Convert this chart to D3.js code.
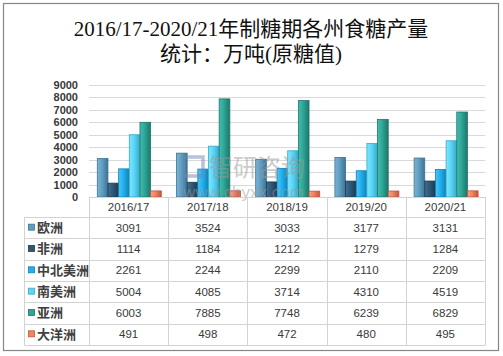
<!DOCTYPE html>
<html><head><meta charset="utf-8">
<script src="https://cdn.jsdelivr.net/npm/d3@7"></script>
<style>
html,body{margin:0;padding:0;background:#fff;}
svg{display:block;}
</style></head>
<body>
<svg id="c" width="503" height="356"></svg>
<script>
const titleLines = ["2016/17-2020/21年制糖期各州食糖产量", "统计：万吨(原糖值)"];
const categories = ["2016/17", "2017/18", "2018/19", "2019/20", "2020/21"];
const seriesNames = ["欧洲", "非洲", "中北美洲", "南美洲", "亚洲", "大洋洲"];
const europe   = [3091, 3524, 3033, 3177, 3131];
const africa   = [1114, 1184, 1212, 1279, 1284];
const nCentAm  = [2261, 2244, 2299, 2110, 2209];
const southAm  = [5004, 4085, 3714, 4310, 4519];
const asia     = [6003, 7885, 7748, 6239, 6829];
const oceania  = [491, 498, 472, 480, 495];
const yTicks   = [0, 1000, 2000, 3000, 4000, 5000, 6000, 7000, 8000, 9000];
const seriesValues = [europe, africa, nCentAm, southAm, asia, oceania];
const colors = [
  {base:"#5f9ec2", light:"#7bb4d3", dark:"#3f7393"},
  {base:"#2f5877", light:"#426e8f", dark:"#1d3b52"},
  {base:"#20b0ee", light:"#4cc4f5", dark:"#1380b4"},
  {base:"#5ad6f6", light:"#7fe6fc", dark:"#38a9c9"},
  {base:"#2ea595", light:"#45bcae", dark:"#1c776b"},
  {base:"#ee8466", light:"#f7a288", dark:"#c0563b"}
];

const svg = d3.select("#c");
const defs = svg.append("defs");
colors.forEach((c, i) => {
  const g = defs.append("linearGradient").attr("id", "g" + i)
    .attr("x1", "0").attr("x2", "1").attr("y1", "0").attr("y2", "0");
  g.append("stop").attr("offset", "0%").attr("stop-color", c.light);
  g.append("stop").attr("offset", "45%").attr("stop-color", c.base);
  g.append("stop").attr("offset", "100%").attr("stop-color", c.dark);
});

// outer border
svg.append("rect").attr("x", 3.5).attr("y", 3.5).attr("width", 495).attr("height", 347)
  .attr("fill", "#fff").attr("stroke", "#878787").attr("stroke-width", 1.2);

// title
const tfont = "'Liberation Serif','Noto Sans CJK SC',serif";
svg.append("text").attr("x", 251).attr("y", 36).attr("text-anchor", "middle")
  .attr("font-family", tfont).attr("font-size", 21).attr("fill", "#111")
  .text(titleLines[0]);
svg.append("text").attr("x", 251).attr("y", 61).attr("text-anchor", "middle")
  .attr("font-family", tfont).attr("font-size", 21).attr("fill", "#111")
  .text(titleLines[1]);

const left = 89, right = 485, yTop = 85, yBase = 197;
const x0 = d3.scaleBand().domain(categories).range([left, right]).padding(0);
const x1 = d3.scaleBand().domain(seriesNames).range([8.3, 72.3]).padding(0);
const y = d3.scaleLinear().domain([0, 9000]).range([yBase, yTop]);

// gridlines
svg.append("g").selectAll("line").data(yTicks.filter(d => d > 0)).join("line")
  .attr("x1", left).attr("x2", right)
  .attr("y1", d => Math.round(y(d)) + 0.5).attr("y2", d => Math.round(y(d)) + 0.5)
  .attr("stroke", "#d9d9d9").attr("stroke-width", 1);

// y axis
const yAxis = d3.axisLeft(y).tickValues(yTicks).tickFormat(d3.format("d")).tickSize(0).tickPadding(0);
const ga = svg.append("g").attr("transform", `translate(${78},0)`).call(yAxis);
ga.select(".domain").remove();
ga.selectAll("text").attr("font-family", "'Liberation Sans',Arial,sans-serif")
  .attr("font-size", 11).attr("font-weight", "bold").attr("fill", "#383838");

// bars
const groups = svg.append("g").selectAll("g").data(categories).join("g")
  .attr("transform", d => `translate(${x0(d)},0)`);
groups.selectAll("rect").data((c, ci) => seriesNames.map((s, si) => ({s, si, v: seriesValues[si][ci]})))
  .join("rect")
  .attr("x", d => x1(d.s)).attr("width", x1.bandwidth())
  .attr("y", d => y(d.v)).attr("height", d => yBase - y(d.v))
  .attr("fill", d => `url(#g${d.si})`)
  .attr("stroke", d => colors[d.si].dark).attr("stroke-width", 0.8);

// watermark (drawn over bars, semi-transparent)
const wm = svg.append("g").attr("opacity", 0.5);
wm.append("rect").attr("x", 184).attr("y", 157).attr("width", 19).attr("height", 19)
  .attr("fill", "none").attr("stroke", "#6f88b3").attr("stroke-width", 3.5);
wm.append("text").attr("x", 209).attr("y", 176).attr("font-family", "'Noto Sans CJK SC'")
  .attr("font-size", 24).attr("fill", "#9a9a9a").text("智研咨询");
wm.append("text").attr("x", 183).attr("y", 198).attr("font-family", "'Liberation Sans',Arial,sans-serif")
  .attr("font-size", 17).attr("fill", "#9a9a9a").text("www.chyxx.com");

// table
const rowTop = 217, rowH = 21.33, tableLeft = 24.5;
const gridColor = "#d3d3d3";
const tbl = svg.append("g");
const hLines = d3.range(seriesNames.length + 1).map(i => rowTop + i * rowH);
tbl.selectAll(".h").data(hLines).join("line")
  .attr("x1", tableLeft).attr("x2", right)
  .attr("y1", d => Math.round(d) + 0.5).attr("y2", d => Math.round(d) + 0.5)
  .attr("stroke", gridColor);
tbl.append("line").attr("x1", left).attr("x2", right).attr("y1", yBase + 0.5).attr("y2", yBase + 0.5)
  .attr("stroke", gridColor);
const vx = categories.map(c => x0(c)).concat([right]);
tbl.selectAll(".v").data(vx).join("line")
  .attr("x1", d => Math.round(d) + 0.5).attr("x2", d => Math.round(d) + 0.5)
  .attr("y1", yBase).attr("y2", Math.round(rowTop + seriesNames.length * rowH) + 0.5)
  .attr("stroke", gridColor);
tbl.append("line").attr("x1", tableLeft).attr("x2", tableLeft)
  .attr("y1", rowTop).attr("y2", Math.round(rowTop + seriesNames.length * rowH) + 0.5)
  .attr("stroke", gridColor);

const numFont = "'Liberation Sans',Arial,sans-serif";
tbl.selectAll(".hd").data(categories).join("text")
  .attr("x", d => x0(d) + x0.bandwidth() / 2).attr("y", 211)
  .attr("text-anchor", "middle").attr("font-family", numFont).attr("font-size", 11.5)
  .attr("fill", "#3a3a3a").text(d => d);

seriesNames.forEach((s, si) => {
  const cy = rowTop + si * rowH + rowH / 2;
  tbl.append("rect").attr("x", 28.5).attr("y", cy - 3.5).attr("width", 6).attr("height", 6)
    .attr("fill", colors[si].base).attr("stroke", colors[si].dark).attr("stroke-width", 0.8);
  tbl.append("text").attr("x", 37).attr("y", cy + 4.5)
    .attr("font-family", "'Noto Sans CJK SC',sans-serif").attr("font-size", 13).attr("font-weight", "bold")
    .attr("fill", "#404040").text(s);
  tbl.selectAll(null).data(categories).join("text")
    .attr("x", d => x0(d) + x0.bandwidth() / 2).attr("y", cy + 4)
    .attr("text-anchor", "middle").attr("font-family", numFont).attr("font-size", 11.5)
    .attr("fill", "#3a3a3a").text((d, ci) => seriesValues[si][ci]);
});
</script>
</body></html>
